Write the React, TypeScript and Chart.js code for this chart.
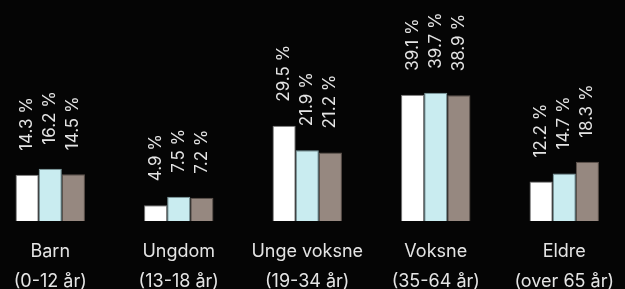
import React, { useEffect, useRef } from "react";
import { Chart, registerables } from "chart.js";

Chart.register(...registerables);

const categories: string[][] = [
  ["Barn", "(0-12 år)"],
  ["Ungdom", "(13-18 år)"],
  ["Unge voksne", "(19-34 år)"],
  ["Voksne", "(35-64 år)"],
  ["Eldre", "(over 65 år)"],
];
const seriesA = [14.3, 4.9, 29.5, 39.1, 12.2];
const seriesB = [16.2, 7.5, 21.9, 39.7, 14.7];
const seriesC = [14.5, 7.2, 21.2, 38.9, 18.3];

const FONT = "Inter, 'DejaVu Sans', sans-serif";
const TEXT = "#e4e4e4";
const BG = "#050505";

const labelPlugin = {
  id: "barLabels",
  afterDatasetsDraw(chart: any) {
    const ctx = chart.ctx;
    ctx.save();
    ctx.fillStyle = TEXT;
    ctx.font = `17px ${FONT}`;
    ctx.textAlign = "left";
    ctx.textBaseline = "middle";
    chart.data.datasets.forEach((ds: any, di: number) => {
      const meta = chart.getDatasetMeta(di);
      meta.data.forEach((el: any, i: number) => {
        const v = ds.data[i] as number;
        ctx.save();
        ctx.translate(el.x, el.y - 24);
        ctx.rotate(-Math.PI / 2);
        ctx.fillText(`${v.toFixed(1)} %`, 0, 0);
        ctx.restore();
      });
    });
    ctx.restore();
  },
};

export default function App() {
  const ref = useRef<HTMLCanvasElement>(null);
  useEffect(() => {
    document.body.style.margin = "0";
    document.body.style.background = BG;
    document.body.style.overflow = "hidden";
    const chart = new Chart(ref.current!, {
      type: "bar",
      data: {
        labels: categories,
        datasets: [
          { data: seriesA, backgroundColor: "#ffffff", borderColor: "#7a7a7a", borderWidth: 1 },
          { data: seriesB, backgroundColor: "#c9ecf0", borderColor: "#7f9ea3", borderWidth: 1 },
          { data: seriesC, backgroundColor: "#968880", borderColor: "#5f544e", borderWidth: 1 },
        ],
      },
      options: {
        animation: false,
        responsive: false,
        maintainAspectRatio: false,
        layout: { padding: 0 },
        plugins: { legend: { display: false }, tooltip: { enabled: false } },
        datasets: { bar: { categoryPercentage: 0.54, barPercentage: 1.0 } },
        scales: {
          x: {
            grid: { display: false, drawTicks: false },
            border: { display: false },
            ticks: {
              color: TEXT,
              font: { family: FONT, size: 18, lineHeight: 1.69 },
              padding: 15,
              maxRotation: 0,
              autoSkip: false,
            },
            afterFit: (s: any) => {
              s.height = 68;
            },
          },
          y: { display: false, min: 0, max: 68.4 },
        },
      },
      plugins: [labelPlugin],
    });
    return () => chart.destroy();
  }, []);
  return (
    <div style={{ position: "absolute", left: -14, top: 0, width: 643, height: 289, background: BG }}>
      <canvas ref={ref} width={643} height={289} style={{ display: "block" }} />
    </div>
  );
}
